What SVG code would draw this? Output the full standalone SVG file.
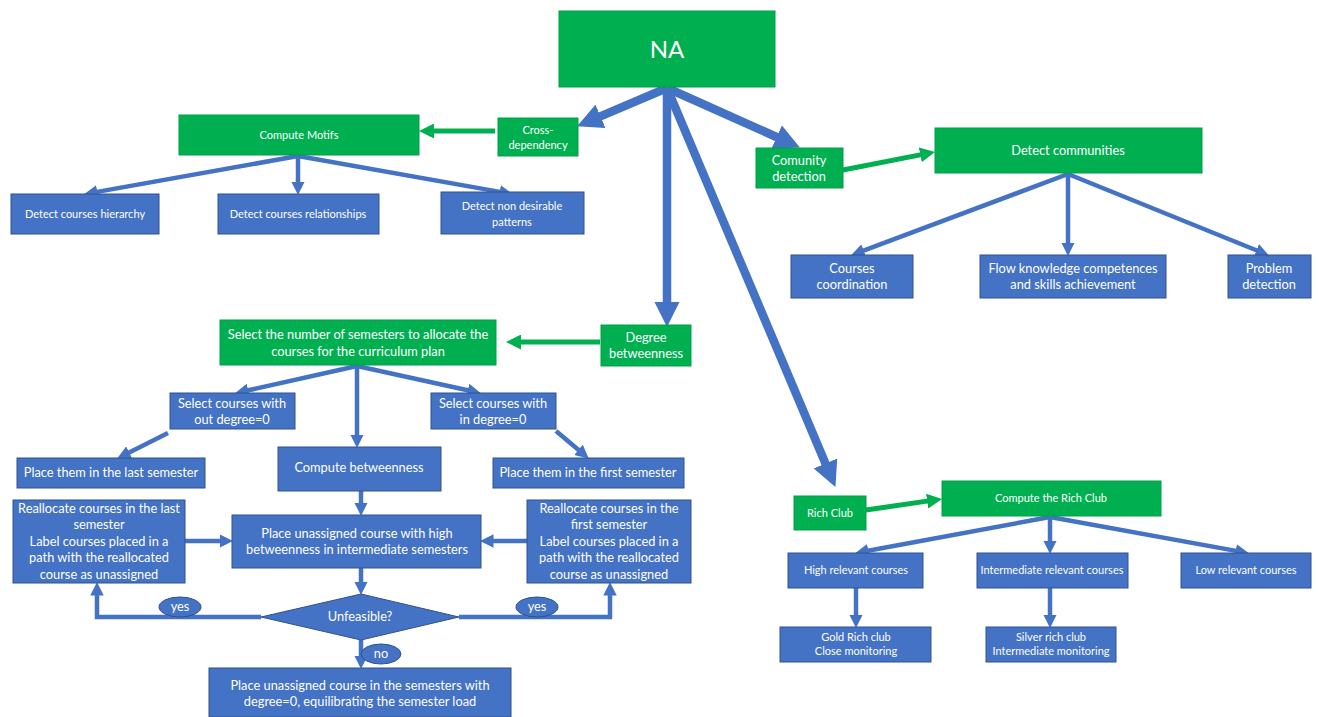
<svg xmlns="http://www.w3.org/2000/svg" width="1319" height="717" viewBox="0 0 1319 717">
  <style>
    .g { fill: #00B050; stroke: #00A048; stroke-width: 1; }
    .b { fill: #4472C4; stroke: #2F528F; stroke-width: 1; }
    text { font-family: Lato, "Liberation Sans", sans-serif; fill: #FFFFFF; text-anchor: middle; }
    .s { font-size: 11px; }
    .m { font-size: 12.8px; }
    .bl { fill: none; stroke: #4472C4; stroke-width: 4.5; marker-end: url(#head-b); }
    .bt { fill: none; stroke: #4472C4; stroke-width: 8.5; marker-end: url(#head-b); }
    .gl { fill: none; stroke: #00B050; stroke-width: 5; marker-end: url(#head-g); }
  </style>
  <defs>
    <marker id="head-b" viewBox="0 0 3 3" markerWidth="3" markerHeight="3" refX="1" refY="1.5" orient="auto" markerUnits="strokeWidth">
      <path d="M0,0 L3,1.5 L0,3 z" fill="#4472C4"/>
    </marker>
    <marker id="head-g" viewBox="0 0 3 3" markerWidth="3" markerHeight="3" refX="1" refY="1.5" orient="auto" markerUnits="strokeWidth">
      <path d="M0,0 L3,1.5 L0,3 z" fill="#00B050"/>
    </marker>
  </defs>
  <rect width="1319" height="717" fill="#FFFFFF"/>

  <!-- connectors -->
  <g id="connectors">
    <!-- root -->
    <path class="bt" d="M667,88 L592.7,119.7"/>
    <path class="bt" d="M667,88 L667,310"/>
    <path class="bt" d="M667,88 L784.4,140.5"/>
    <path class="bt" d="M667,88 L828.8,471.3"/>
    <!-- motifs branch -->
    <path class="gl" d="M495,131 L429,131"/>
    <path class="bl" d="M298,156 L92.9,192.6"/>
    <path class="bl" d="M298,156 L298,186"/>
    <path class="bl" d="M298,156 L504.1,192.6"/>
    <!-- community branch -->
    <path class="gl" d="M843,170 L925.2,153.9"/>
    <path class="bl" d="M1068,174 L859.5,252.2"/>
    <path class="bl" d="M1068,174 L1068,247"/>
    <path class="bl" d="M1068,174 L1260.6,252"/>
    <!-- betweenness branch -->
    <path class="gl" d="M600,342 L516,342"/>
    <path class="bl" d="M357,366 L243.8,391.3"/>
    <path class="bl" d="M357,366 L357,439"/>
    <path class="bl" d="M357,366 L472.2,391.3"/>
    <path class="bl" d="M168,433 L125.2,454.4"/>
    <path class="bl" d="M556,431 L581.9,452.8"/>
    <path class="bl" d="M361,491 L361,507"/>
    <path class="bl" d="M185,541 L224,541"/>
    <path class="bl" d="M527,541 L489,541"/>
    <path class="bl" d="M361,568 L361,586"/>
    <path class="bl" d="M261,617 H97 V591"/>
    <path class="bl" d="M459,617 H610 V591"/>
    <path class="bl" d="M361,640 L361,660"/>
    <!-- rich club branch -->
    <path class="gl" d="M866,510 L932.1,500.4"/>
    <path class="bl" d="M1050,517 L863.9,551.5"/>
    <path class="bl" d="M1050,517 L1050,545"/>
    <path class="bl" d="M1050,517 L1240.1,551.6"/>
    <path class="bl" d="M856,588 L856,619"/>
    <path class="bl" d="M1050,588 L1050,619"/>
  </g>

  <!-- root -->
  <g id="na">
    <rect class="g" x="559" y="11" width="216" height="76"/>
    <text x="667" y="58" style="font-size:24px">NA</text>
  </g>

  <!-- motifs -->
  <g id="cross-dependency">
    <rect class="g" x="498" y="118" width="80" height="38"/>
    <text class="s" x="538" y="134">Cross-</text>
    <text class="s" x="538" y="149">dependency</text>
  </g>
  <g id="compute-motifs">
    <rect class="g" x="179" y="115" width="240" height="40"/>
    <text class="s" x="299" y="139">Compute Motifs</text>
  </g>
  <g id="detect-hierarchy">
    <rect class="b" x="11" y="194" width="148" height="40"/>
    <text class="s" x="85" y="218">Detect courses hierarchy</text>
  </g>
  <g id="detect-relationships">
    <rect class="b" x="218" y="194" width="161" height="40"/>
    <text class="s" x="298" y="218">Detect courses relationships</text>
  </g>
  <g id="detect-patterns">
    <rect class="b" x="441" y="192" width="143" height="42"/>
    <text class="s" x="512" y="210">Detect non desirable</text>
    <text class="s" x="512" y="226">patterns</text>
  </g>

  <!-- communities -->
  <g id="comunity-detection">
    <rect class="g" x="756" y="148" width="87" height="40"/>
    <text class="m" x="799" y="165">Comunity</text>
    <text class="m" x="799" y="181">detection</text>
  </g>
  <g id="detect-communities">
    <rect class="g" x="935" y="128" width="267" height="45"/>
    <text class="m" x="1068" y="155">Detect communities</text>
  </g>
  <g id="courses-coordination">
    <rect class="b" x="791" y="255" width="122" height="43"/>
    <text class="m" x="852" y="273">Courses</text>
    <text class="m" x="852" y="289">coordination</text>
  </g>
  <g id="flow-knowledge">
    <rect class="b" x="980" y="255" width="186" height="43"/>
    <text class="m" x="1073" y="273">Flow knowledge competences</text>
    <text class="m" x="1073" y="289">and skills achievement</text>
  </g>
  <g id="problem-detection">
    <rect class="b" x="1228" y="255" width="83" height="43"/>
    <text class="m" x="1269" y="273">Problem</text>
    <text class="m" x="1269" y="289">detection</text>
  </g>

  <!-- semester allocation -->
  <g id="degree-betweenness">
    <rect class="g" x="601" y="325" width="90" height="41"/>
    <text class="m" x="646" y="342">Degree</text>
    <text class="m" x="646" y="358">betweenness</text>
  </g>
  <g id="select-semesters">
    <rect class="g" x="220" y="320" width="276" height="45"/>
    <text class="m" x="358" y="339">Select the number of semesters to allocate the</text>
    <text class="m" x="358" y="356">courses for the curriculum plan</text>
  </g>
  <g id="select-out-degree">
    <rect class="b" x="170" y="393" width="125" height="36"/>
    <text class="m" x="232" y="408">Select courses with</text>
    <text class="m" x="232" y="424">out degree=0</text>
  </g>
  <g id="select-in-degree">
    <rect class="b" x="431" y="393" width="125" height="36"/>
    <text class="m" x="493" y="408">Select courses with</text>
    <text class="m" x="493" y="424">in degree=0</text>
  </g>
  <g id="place-last">
    <rect class="b" x="17" y="458" width="188" height="30"/>
    <text class="m" x="111" y="477">Place them in the last semester</text>
  </g>
  <g id="compute-betweenness">
    <rect class="b" x="278" y="447" width="163" height="44"/>
    <text class="m" x="359" y="472">Compute betweenness</text>
  </g>
  <g id="place-first">
    <rect class="b" x="493" y="458" width="191" height="30"/>
    <text class="m" x="588" y="477">Place them in the first semester</text>
  </g>
  <g id="reallocate-last">
    <rect class="b" x="13" y="500" width="172" height="83"/>
    <text class="m" x="99" y="513">Reallocate courses in the last</text>
    <text class="m" x="99" y="529">semester</text>
    <text class="m" x="99" y="546">Label courses placed in a</text>
    <text class="m" x="99" y="562">path with the reallocated</text>
    <text class="m" x="99" y="579">course as unassigned</text>
  </g>
  <g id="place-intermediate">
    <rect class="b" x="232" y="515" width="249" height="53"/>
    <text class="m" x="357" y="538">Place unassigned course with high</text>
    <text class="m" x="357" y="554">betweenness in intermediate semesters</text>
  </g>
  <g id="reallocate-first">
    <rect class="b" x="527" y="500" width="164" height="83"/>
    <text class="m" x="609" y="513">Reallocate courses in the</text>
    <text class="m" x="609" y="529">first semester</text>
    <text class="m" x="609" y="546">Label courses placed in a</text>
    <text class="m" x="609" y="562">path with the reallocated</text>
    <text class="m" x="609" y="579">course as unassigned</text>
  </g>
  <g id="unfeasible">
    <polygon class="b" points="361,594 459,617 361,640 261,617"/>
    <text class="m" x="360" y="621">Unfeasible?</text>
  </g>
  <g id="yes-left">
    <ellipse class="b" cx="180" cy="607" rx="21" ry="10"/>
    <text class="m" x="180" y="611">yes</text>
  </g>
  <g id="yes-right">
    <ellipse class="b" cx="537" cy="607" rx="21" ry="10"/>
    <text class="m" x="537" y="611">yes</text>
  </g>
  <g id="no">
    <ellipse class="b" cx="381" cy="654" rx="20" ry="10"/>
    <text class="m" x="381" y="658">no</text>
  </g>
  <g id="place-degree-zero">
    <rect class="b" x="209" y="668" width="302" height="49"/>
    <text class="m" x="360" y="690">Place unassigned course in the semesters with</text>
    <text class="m" x="360" y="706">degree=0, equilibrating the semester load</text>
  </g>

  <!-- rich club -->
  <g id="rich-club">
    <rect class="g" x="794" y="496" width="72" height="34"/>
    <text class="s" x="830" y="517">Rich Club</text>
  </g>
  <g id="compute-rich-club">
    <rect class="g" x="942" y="481" width="219" height="35"/>
    <text class="s" x="1051" y="502">Compute the Rich Club</text>
  </g>
  <g id="high-relevant">
    <rect class="b" x="788" y="553" width="135" height="35"/>
    <text class="s" x="856" y="574">High relevant courses</text>
  </g>
  <g id="intermediate-relevant">
    <rect class="b" x="977" y="553" width="151" height="35"/>
    <text class="s" x="1052" y="574">Intermediate relevant courses</text>
  </g>
  <g id="low-relevant">
    <rect class="b" x="1181" y="553" width="130" height="35"/>
    <text class="s" x="1246" y="574">Low relevant courses</text>
  </g>
  <g id="gold-rich-club">
    <rect class="b" x="780" y="627" width="151" height="35"/>
    <text class="s" x="856" y="641">Gold Rich club</text>
    <text class="s" x="856" y="655">Close monitoring</text>
  </g>
  <g id="silver-rich-club">
    <rect class="b" x="986" y="627" width="130" height="35"/>
    <text class="s" x="1051" y="641">Silver rich club</text>
    <text class="s" x="1051" y="655">Intermediate monitoring</text>
  </g>
</svg>
